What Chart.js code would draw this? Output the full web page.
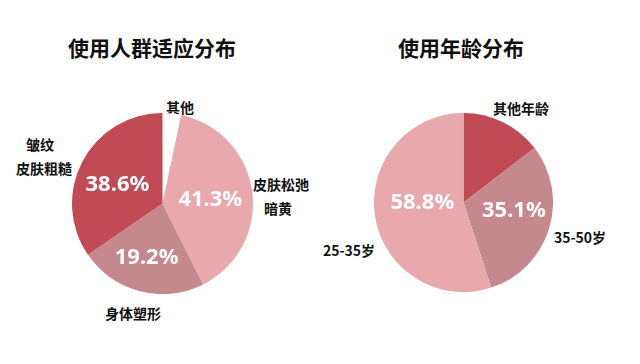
<!DOCTYPE html>
<html>
<head>
<meta charset="utf-8">
<script src="https://cdn.jsdelivr.net/npm/chart.js@4"></script>
<style>
  body { margin: 0; background: #fff; }
  #wrap { position: relative; width: 640px; height: 364px; overflow: hidden;
          font-family: "Noto Sans CJK SC", "Noto Sans", sans-serif; color: #111; }
  .title { position: absolute; font-size: 21px; font-weight: bold; transform: translate(-50%, -50%); white-space: nowrap; }
  .lbl { position: absolute; font-size: 14px; font-weight: bold; transform: translate(-50%, -50%); white-space: nowrap; }
  canvas { position: absolute; }
</style>
</head>
<body>
<div id="wrap">
  <div class="title" style="left:152px; top:47px;">使用人群适应分布</div>
  <div class="title" style="left:461px; top:47px;">使用年龄分布</div>

  <div class="lbl" style="left:180px; top:107px;">其他</div>
  <div class="lbl" style="left:40px; top:144px;">皱纹</div>
  <div class="lbl" style="left:44px; top:168px;">皮肤粗糙</div>
  <div class="lbl" style="left:281px; top:184px;">皮肤松弛</div>
  <div class="lbl" style="left:278px; top:208px;">暗黄</div>
  <div class="lbl" style="left:133px; top:313px;">身体塑形</div>

  <div class="lbl" style="left:521px; top:108px;">其他年龄</div>
  <div class="lbl" style="left:349px; top:250px;">25-35岁</div>
  <div class="lbl" style="left:580px; top:237px;">35-50岁</div>

  <canvas id="crowdChart" style="left:72px; top:113px;" width="181" height="181"></canvas>
  <canvas id="ageChart" style="left:374px; top:113px;" width="179" height="179"></canvas>
</div>
<script>
// Data
const crowdCategories = ["其他", "皮肤松弛暗黄", "身体塑形", "皱纹皮肤粗糙"];
const crowdShares = [3.3, 39.3, 22.8, 34.6];
const crowdLabels = ["", "41.3%", "19.2%", "38.6%"];

const ageCategories = ["其他年龄", "35-50岁", "25-35岁"];
const ageShares = [14.6, 30.4, 55.0];
const ageLabels = ["", "35.1%", "58.8%"];

const DARK = "#c14b55";
const MAUVE = "#c5888d";
const LIGHT = "#e8a8ac";

// draws the white percentage text inside each slice
const sliceText = {
    id: "sliceText",
    afterDatasetsDraw(chart, args, opts) {
        const ctx = chart.ctx;
        const arcs = chart.getDatasetMeta(0).data;
        ctx.save();
        ctx.fillStyle = "#fff";
        ctx.font = "bold 22px 'Noto Sans', sans-serif";
        ctx.textAlign = "center";
        ctx.textBaseline = "middle";
        arcs.forEach((arc, i) => {
            const text = opts.texts[i];
            if (!text) return;
            const p = arc.getProps(["x", "y", "startAngle", "endAngle", "outerRadius"], true);
            const mid = (p.startAngle + p.endAngle) / 2 + (opts.turn[i] || 0) * Math.PI / 180;
            const d = p.outerRadius * opts.dist[i];
            ctx.fillText(text, p.x + Math.cos(mid) * d, p.y + Math.sin(mid) * d);
        });
        ctx.restore();
    }
};

function makePie(id, cats, values, colors, texts, dist, turn) {
    return new Chart(document.getElementById(id), {
        type: "pie",
        data: {
            labels: cats,
            datasets: [{
                data: values,
                backgroundColor: colors,
                borderWidth: 0,
                hoverOffset: 0,
                offset: 0
            }]
        },
        options: {
            responsive: false,
            animation: false,
            layout: { padding: 0 },
            plugins: {
                legend: { display: false },
                tooltip: { enabled: false },
                sliceText: { texts: texts, dist: dist, turn: turn }
            }
        },
        plugins: [sliceText]
    });
}

makePie("crowdChart", crowdCategories, crowdShares, ["#ffffff", LIGHT, MAUVE, DARK], crowdLabels,
        [0, 0.53, 0.62, 0.54], [0, 3, 2, -5]);
makePie("ageChart", ageCategories, ageShares, [DARK, MAUVE, LIGHT], ageLabels,
        [0, 0.57, 0.46], [0, -8, 8]);
</script>
</body>
</html>
